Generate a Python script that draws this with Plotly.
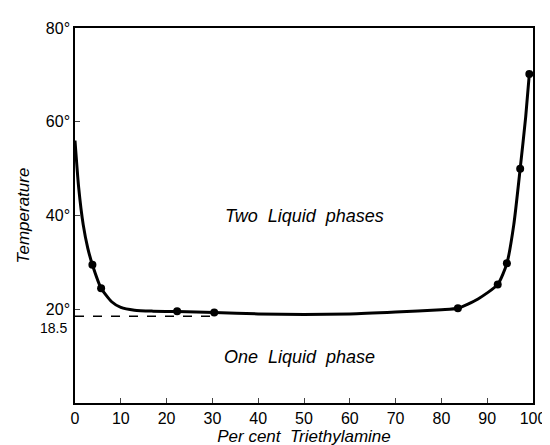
import plotly.graph_objects as go

# Measured points
point_pct = [3.8, 5.7, 22.3, 30.4, 83.6, 92.3, 94.3, 97.2, 99.2]
point_temp = [29.5, 24.5, 19.6, 19.3, 20.2, 25.3, 29.8, 50.0, 70.2]

# Smooth solubility curve
curve_pct = [0, 0.8, 1.8, 2.8, 3.8, 5.7, 8, 10, 13, 17, 22.3, 30.4, 40, 50, 60, 70, 80, 83.6, 88, 92.3, 94.3, 95.8, 97.2, 98.4, 99.2]
curve_temp = [56, 46, 38, 33, 29.5, 24.5, 21.6, 20.4, 19.8, 19.6, 19.5, 19.3, 19.0, 18.9, 19.0, 19.4, 19.9, 20.2, 22.2, 25.3, 29.8, 38, 50, 61, 70.2]

# Lower critical solution temperature line
lcst_pct = [0, 30]
lcst_temp = [18.5, 18.5]

x_ticks = [0, 10, 20, 30, 40, 50, 60, 70, 80, 90, 100]
y_ticks = [20, 40, 60, 80]
y_tick_text = ["20°", "40°", "60°", "80°"]

font = "Liberation Sans, Arial, sans-serif"

fig = go.Figure()
fig.add_trace(go.Scatter(x=lcst_pct, y=lcst_temp, mode="lines",
                         line=dict(color="black", width=1.5, dash="dash"), hoverinfo="skip"))
fig.add_trace(go.Scatter(x=curve_pct, y=curve_temp, mode="lines",
                         line=dict(color="black", width=3, shape="spline", smoothing=0.6)))
fig.add_trace(go.Scatter(x=point_pct, y=point_temp, mode="markers",
                         marker=dict(color="black", size=8)))

fig.add_annotation(x=0, y=18.5, xref="x", yref="y", text="18.5", showarrow=False,
                   xanchor="right", yanchor="middle", xshift=-6, yshift=-12,
                   font=dict(family=font, size=14, color="black"))
fig.add_annotation(x=50, y=40, xref="x", yref="y", text="<i>Two  Liquid  phases</i>",
                   showarrow=False, font=dict(family=font, size=18, color="black"))
fig.add_annotation(x=49, y=9.8, xref="x", yref="y", text="<i>One  Liquid  phase</i>",
                   showarrow=False, font=dict(family=font, size=18, color="black"))

fig.update_layout(
    width=550, height=445,
    margin=dict(l=67, r=13, t=20, b=48),
    paper_bgcolor="white", plot_bgcolor="white",
    showlegend=False,
    font=dict(family=font, size=16, color="black"),
)
fig.update_xaxes(range=[0, 100], tickvals=x_ticks, ticks="inside", ticklen=5,
                 showgrid=False, zeroline=False, showline=True, linecolor="black",
                 linewidth=1.5, mirror=True,
                 title=dict(text="<i>Per cent  Triethylamine</i>", standoff=2,
                            font=dict(family=font, size=17)))
fig.update_yaxes(range=[0, 80], tickvals=y_ticks, ticktext=y_tick_text, ticks="inside",
                 ticklen=5, showgrid=False, zeroline=False, showline=True,
                 linecolor="black", linewidth=1.5, mirror=True,
                 title=dict(text="<i>Temperature</i>", standoff=12,
                            font=dict(family=font, size=17)))

fig.write_html("out.html")
